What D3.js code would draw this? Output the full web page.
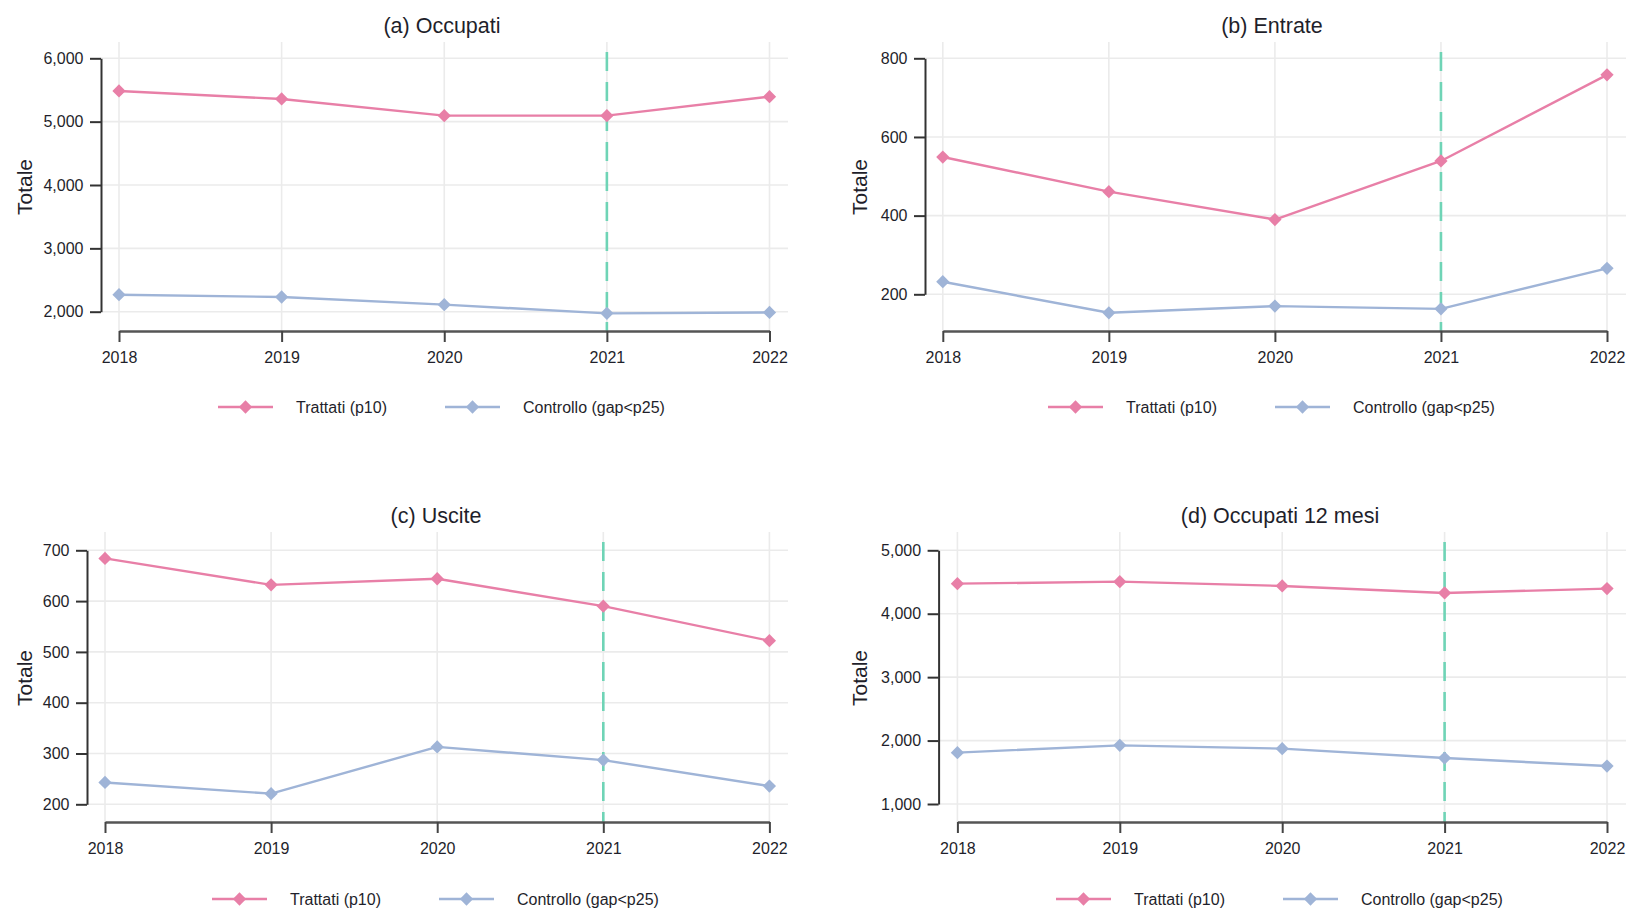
<!DOCTYPE html>
<html>
<head>
<meta charset="utf-8">
<script src="https://cdn.jsdelivr.net/npm/d3@7"></script>
<style>
  html, body { margin: 0; padding: 0; background: #ffffff; }
  svg { display: block; font-family: "Liberation Sans", Arial, sans-serif; }
</style>
</head>
<body>
<svg id="chart" width="1626" height="911"></svg>
<script>
// Years on the x axis and the treatment year marked by the dashed line
const years = [2018, 2019, 2020, 2021, 2022];
const treatmentYear = 2021;

const seriesNames = ["Trattati (p10)", "Controllo (gap<p25)"];

// (a) Occupati
const occupatiTrattati  = [5484, 5358, 5095, 5095, 5395];
const occupatiControllo = [2268, 2232, 2111, 1974, 1989];
const occupatiTicks = [2000, 3000, 4000, 5000, 6000];

// (b) Entrate
const entrateTrattati  = [549, 461, 390, 539, 758];
const entrateControllo = [232, 153, 170, 163, 266];
const entrateTicks = [200, 400, 600, 800];

// (c) Uscite
const usciteTrattati  = [684, 632, 644, 590, 522];
const usciteControllo = [243, 221, 313, 287, 236];
const usciteTicks = [200, 300, 400, 500, 600, 700];

// (d) Occupati 12 mesi
const occ12Trattati  = [4474, 4506, 4438, 4327, 4396];
const occ12Controllo = [1810, 1925, 1873, 1725, 1599];
const occ12Ticks = [1000, 2000, 3000, 4000, 5000];

const panelTitles = ["(a) Occupati", "(b) Entrate", "(c) Uscite", "(d) Occupati 12 mesi"];

// Styling
const colors = ["#e87fa7", "#9fb4d7"];
const dashColor = "#6fd4b6";
const gridColor = "#ebebeb";
const textColor = "#1f1f2b";

// Panel geometry (pixels)
const topRow = { gridTop: 42, dashTop: 52, axisY: 331, titleY: 25, legendY: 407, labelY: 187, tickTopY: 58.3 };
const botRow = { gridTop: 532, dashTop: 542, axisY: 822, titleY: 515, legendY: 899, labelY: 678, tickTopY: 550.3 };

const panels = [
  { title: panelTitles[0], trattati: occupatiTrattati, controllo: occupatiControllo, ticks: occupatiTicks,
    row: topRow, yAxisX: 101, x0: 119, x1: 769.5, gridRight: 788, center: 442, labelX: 24, tickBottomY: 311.7 },
  { title: panelTitles[1], trattati: entrateTrattati, controllo: entrateControllo, ticks: entrateTicks,
    row: topRow, yAxisX: 925, x0: 942.8, x1: 1607, gridRight: 1640, center: 1272, labelX: 859.5, tickBottomY: 294.3 },
  { title: panelTitles[2], trattati: usciteTrattati, controllo: usciteControllo, ticks: usciteTicks,
    row: botRow, yAxisX: 87, x0: 105, x1: 769.4, gridRight: 788, center: 436, labelX: 24, tickBottomY: 804.3 },
  { title: panelTitles[3], trattati: occ12Trattati, controllo: occ12Controllo, ticks: occ12Ticks,
    row: botRow, yAxisX: 938.6, x0: 957.4, x1: 1607, gridRight: 1640, center: 1280, labelX: 859.5, tickBottomY: 804 }
];

const svg = d3.select("#chart");
svg.append("rect").attr("width", 1626).attr("height", 911).attr("fill", "#ffffff");

const diamond = d3.symbol().type(d3.symbolSquare).size(88);
const fmt = d3.format(",");

panels.forEach(p => {
  const r = p.row;
  const g = svg.append("g");

  const x = d3.scaleLinear().domain([years[0], years[years.length - 1]]).range([p.x0, p.x1]);
  const y = d3.scaleLinear()
    .domain([p.ticks[0], p.ticks[p.ticks.length - 1]])
    .range([p.tickBottomY, r.tickTopY]);

  // horizontal grid
  g.append("g").selectAll("line").data(p.ticks).join("line")
    .attr("x1", p.yAxisX).attr("x2", p.gridRight)
    .attr("y1", d => y(d)).attr("y2", d => y(d))
    .attr("stroke", gridColor).attr("stroke-width", 1.6);

  // vertical grid
  g.append("g").selectAll("line").data(years).join("line")
    .attr("x1", d => x(d)).attr("x2", d => x(d))
    .attr("y1", r.gridTop).attr("y2", r.axisY)
    .attr("stroke", gridColor).attr("stroke-width", 1.6);

  // treatment year marker
  g.append("line")
    .attr("x1", x(treatmentYear)).attr("x2", x(treatmentYear))
    .attr("y1", r.dashTop).attr("y2", r.axisY)
    .attr("stroke", dashColor).attr("stroke-width", 2.6)
    .attr("stroke-dasharray", "19,11");

  // y axis
  const yAxis = g.append("g")
    .attr("transform", `translate(${p.yAxisX},0)`)
    .call(d3.axisLeft(y).tickValues(p.ticks).tickFormat(fmt).tickSize(11).tickSizeOuter(0).tickPadding(6.5));
  yAxis.select(".domain").attr("stroke", "#333").attr("stroke-width", 2);
  yAxis.selectAll(".tick line").attr("stroke", "#333").attr("stroke-width", 2);
  yAxis.selectAll(".tick text").attr("font-size", 16).attr("fill", textColor)
    .attr("font-family", "Liberation Sans, Arial, sans-serif");

  // x axis
  const xAxis = g.append("g")
    .attr("transform", `translate(0,${r.axisY})`)
    .call(d3.axisBottom(x).tickValues(years).tickFormat(d3.format("d")).tickSize(11).tickSizeOuter(0).tickPadding(9.5));
  xAxis.select(".domain").attr("stroke", "#555").attr("stroke-width", 2.6);
  xAxis.selectAll(".tick line").attr("stroke", "#444").attr("stroke-width", 2);
  xAxis.selectAll(".tick text").attr("font-size", 16).attr("fill", textColor)
    .attr("font-family", "Liberation Sans, Arial, sans-serif");

  // series
  const line = d3.line().x((d, i) => x(years[i])).y(d => y(d));
  [p.trattati, p.controllo].forEach((vals, k) => {
    g.append("path").datum(vals)
      .attr("d", line).attr("fill", "none")
      .attr("stroke", colors[k]).attr("stroke-width", 2.4).attr("stroke-linejoin", "round");
    g.append("g").selectAll("path").data(vals).join("path")
      .attr("d", diamond)
      .attr("transform", (d, i) => `translate(${x(years[i])},${y(d)}) rotate(45)`)
      .attr("fill", colors[k]);
  });

  // title
  g.append("text")
    .attr("x", p.center).attr("y", r.titleY).attr("dy", "0.36em")
    .attr("text-anchor", "middle").attr("font-size", 21.5).attr("fill", textColor)
    .text(p.title);

  // y label
  g.append("text")
    .attr("transform", `translate(${p.labelX},${r.labelY}) rotate(-90)`)
    .attr("dy", "0.36em").attr("text-anchor", "middle")
    .attr("font-size", 21).attr("fill", textColor)
    .text("Totale");

  // legend
  const legend = g.append("g").attr("transform", `translate(${p.center},${r.legendY})`);
  const entries = [{ lx: -224, tx: -146 }, { lx: 3, tx: 81 }];
  entries.forEach((e, k) => {
    legend.append("line")
      .attr("x1", e.lx).attr("x2", e.lx + 55).attr("y1", 0).attr("y2", 0)
      .attr("stroke", colors[k]).attr("stroke-width", 2.6);
    legend.append("path")
      .attr("d", diamond)
      .attr("transform", `translate(${e.lx + 27.5},0) rotate(45)`)
      .attr("fill", colors[k]);
    legend.append("text")
      .attr("x", e.tx).attr("y", 0).attr("dy", "0.35em")
      .attr("font-size", 16).attr("fill", textColor)
      .text(seriesNames[k]);
  });
});
</script>
</body>
</html>
